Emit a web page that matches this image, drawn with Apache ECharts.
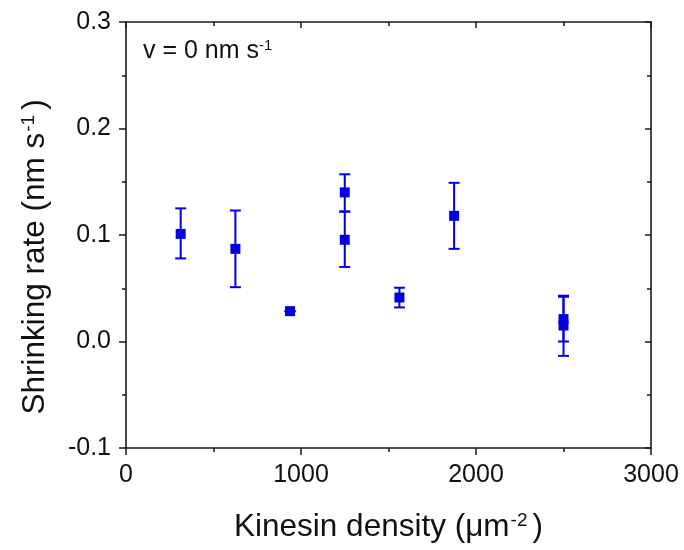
<!DOCTYPE html>
<html>
<head>
<meta charset="utf-8">
<script src="https://cdn.jsdelivr.net/npm/echarts@6/dist/echarts.min.js"></script>
<style>
html,body{margin:0;padding:0;background:#fff;}
#chart{width:684px;height:550px;}
</style>
</head>
<body>
<div id="chart"></div>
<script>
// Data
const density = [312.5, 625, 937.5, 1250, 1250, 1562.5, 1875, 2500, 2500];
const rate    = [0.101, 0.087, 0.0285, 0.140, 0.0955, 0.0413, 0.118, 0.021, 0.015];
const errLow  = [0.078, 0.051, 0.0285, 0.122, 0.070, 0.032, 0.087, 0.000, -0.0135];
const errHigh = [0.125, 0.123, 0.0285, 0.157, 0.122, 0.0505, 0.149, 0.042, 0.043];
const xTicks = [0, 1000, 2000, 3000];
const yTicks = [-0.1, 0.0, 0.1, 0.2, 0.3];

const blue = '#0000e0';
const axisColor = '#1a1a1a';
const font = 'Liberation Sans, Arial, sans-serif';

const points = density.map((x, i) => [x, rate[i]]);
const bars = density.map((x, i) => [x, errLow[i], errHigh[i]]);

const chart = echarts.init(document.getElementById('chart'), null, {renderer: 'canvas'});

const baseAxisLine = {show: true, onZero: false, lineStyle: {color: axisColor, width: 1.6}};
const tickStyle = {color: axisColor, width: 1.5};
const supStyle = {fontFamily: font, fontSize: 19, verticalAlign: 'top', padding: [0, 5, 14, 1], color: '#111'};

chart.setOption({
  animation: false,
  backgroundColor: '#fff',
  grid: {left: 126, right: 33, top: 22, bottom: 102, containLabel: false},
  xAxis: [{
    type: 'value', min: xTicks[0], max: xTicks[xTicks.length - 1], interval: 1000,
    position: 'bottom',
    axisLine: baseAxisLine,
    axisTick: {show: true, inside: false, length: 7, lineStyle: tickStyle},
    minorTick: {show: true, splitNumber: 2, length: 4, lineStyle: tickStyle},
    splitLine: {show: false},
    axisLabel: {color: '#111', fontFamily: font, fontSize: 25, margin: 15,
      formatter: v => String(v)},
    name: 'Kinesin density (μm{sup|-2})',
    nameLocation: 'middle', nameGap: 63,
    nameTextStyle: {color: '#111', fontFamily: font, fontSize: 31.5, rich: {sup: supStyle}}
  }, {
    type: 'value', min: xTicks[0], max: xTicks[xTicks.length - 1], interval: 1000,
    position: 'top',
    axisLine: baseAxisLine,
    axisTick: {show: true, inside: true, length: 6, lineStyle: tickStyle},
    minorTick: {show: true, splitNumber: 2, length: 4, lineStyle: tickStyle},
    splitLine: {show: false},
    axisLabel: {show: false}
  }],
  yAxis: [{
    type: 'value', min: yTicks[0], max: yTicks[yTicks.length - 1], interval: 0.1,
    position: 'left',
    axisLine: baseAxisLine,
    axisTick: {show: true, inside: false, length: 7, lineStyle: tickStyle},
    minorTick: {show: true, splitNumber: 2, length: 4, lineStyle: tickStyle},
    splitLine: {show: false},
    axisLabel: {color: '#111', fontFamily: font, fontSize: 25, margin: 15,
      formatter: v => v.toFixed(1)},
    name: 'Shrinking rate (nm s{sup|-1})',
    nameLocation: 'middle', nameGap: 74, nameRotate: 90,
    nameTextStyle: {color: '#111', fontFamily: font, fontSize: 31.5, padding: [0, 44, 0, 0], rich: {sup: supStyle}}
  }, {
    type: 'value', min: yTicks[0], max: yTicks[yTicks.length - 1], interval: 0.1,
    position: 'right',
    axisLine: baseAxisLine,
    axisTick: {show: true, inside: true, length: 6, lineStyle: tickStyle},
    minorTick: {show: true, splitNumber: 2, length: 4, lineStyle: tickStyle},
    splitLine: {show: false},
    axisLabel: {show: false}
  }],
  graphic: [{
    type: 'text', left: 143, top: 38,
    style: {
      text: 'v = 0 nm s{sup|-1}',
      fill: '#111', font: '25px ' + font,
      rich: {sup: {fontFamily: font, fontSize: 15, verticalAlign: 'top', padding: [0, 0, 12, 0], fill: '#111'}}
    }
  }],
  series: [{
    type: 'custom',
    xAxisIndex: 0, yAxisIndex: 0,
    data: bars,
    z: 2,
    renderItem: function (params, api) {
      const x = api.value(0);
      const lo = api.coord([x, api.value(1)]);
      const hi = api.coord([x, api.value(2)]);
      const cap = 5.5;
      const style = {stroke: blue, lineWidth: 2};
      return {
        type: 'group',
        children: [
          {type: 'line', shape: {x1: lo[0], y1: lo[1], x2: hi[0], y2: hi[1]}, style: style},
          {type: 'line', shape: {x1: lo[0] - cap, y1: lo[1], x2: lo[0] + cap, y2: lo[1]}, style: style},
          {type: 'line', shape: {x1: hi[0] - cap, y1: hi[1], x2: hi[0] + cap, y2: hi[1]}, style: style}
        ]
      };
    }
  }, {
    type: 'scatter',
    xAxisIndex: 0, yAxisIndex: 0,
    data: points,
    symbol: 'rect',
    symbolSize: 10,
    z: 3,
    itemStyle: {color: blue, opacity: 1}
  }]
});
</script>
</body>
</html>
